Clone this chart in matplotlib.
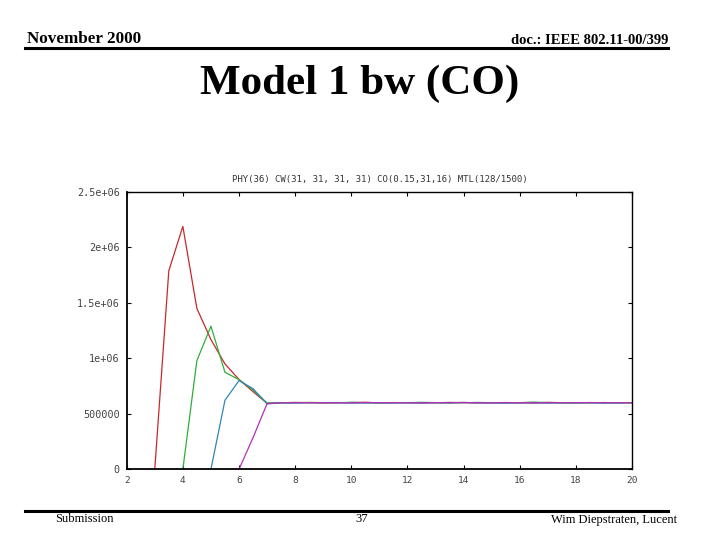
import matplotlib
matplotlib.use("Agg")
import matplotlib.pyplot as plt

# ---- data ----
plateau_x = [7.5, 8, 8.5, 9, 9.5, 10, 10.5, 11, 11.5, 12, 12.5, 13, 13.5,
             14, 14.5, 15, 15.5, 16, 16.5, 17, 17.5, 18, 18.5, 19, 19.5, 20]

red_x = [3, 3.5, 4, 4.5, 5, 5.5, 6, 6.5, 7] + plateau_x
red_y = [0, 1790000, 2190000, 1450000, 1170000, 950000, 810000, 700000, 595000,
         600000, 603000, 601000, 598000, 600000, 602000, 604000, 599000, 600000, 601000,
         598000, 600000, 603000, 601000, 599000, 600000, 602000, 600000, 598000, 604000,
         600000, 601000, 600000, 602000, 599000, 600000]

green_x = [4, 4.5, 5, 5.5, 6, 6.5, 7] + plateau_x
green_y = [0, 980000, 1290000, 875000, 808000, 715000, 598000,
           601000, 598000, 603000, 601000, 599000, 604000, 600000, 598000, 602000, 600000,
           604000, 601000, 599000, 600000, 603000, 600000, 598000, 601000, 606000, 601000,
           598000, 600000, 601000, 599000, 600000, 601000]

blue_x = [5, 5.5, 6, 6.5, 7] + plateau_x
blue_y = [0, 622000, 800000, 727000, 590000,
          598000, 600000, 599000, 601000, 602000, 597000, 598000, 600000, 598000, 600000,
          597000, 601000, 598000, 603000, 598000, 600000, 597000, 600000, 599000, 597000,
          600000, 598000, 600000, 597000, 599000, 600000]

magenta_x = [6, 6.5, 7] + plateau_x
magenta_y = [0, 285000, 592000,
             600000, 599000, 601000, 600000, 600000, 599000, 602000, 600000, 601000, 599000,
             600000, 601000, 600000, 602000, 600000, 599000, 601000, 600000, 600000, 599000,
             601000, 600000, 602000, 600000, 601000, 600000]

x_ticks = [2, 4, 6, 8, 10, 12, 14, 16, 18, 20]
y_ticks = [0, 500000, 1000000, 1500000, 2000000, 2500000]
y_tick_labels = ["0", "500000", "1e+06", "1.5e+06", "2e+06", "2.5e+06"]
chart_title = "PHY(36) CW(31, 31, 31, 31) CO(0.15,31,16) MTL(128/1500)"

# ---- figure ----
fig = plt.figure(figsize=(7.2, 5.4), dpi=100)
fig.patch.set_facecolor("white")

serif = ["Liberation Serif", "DejaVu Serif"]

# slide header
fig.text(27 / 720, 1 - 39 / 540, "November 2000", family=serif, weight="bold",
         fontsize=12.3, ha="left", va="center")
fig.text(668 / 720, 1 - 41 / 540, "doc.: IEEE 802.11-00/399", family=serif,
         weight="bold", fontsize=10.5, ha="right", va="center")
fig.add_artist(plt.Line2D([25 / 720, 668 / 720], [1 - 47.5 / 540, 1 - 47.5 / 540],
                          color="black", lw=2.2))
fig.text(360 / 720, 1 - 84 / 540, "Model 1 bw (CO)", family=serif, weight="bold",
         fontsize=31, ha="center", va="center")

# slide footer
fig.add_artist(plt.Line2D([25 / 720, 668 / 720], [1 - 511 / 540, 1 - 511 / 540],
                          color="black", lw=2.2))
fig.text(55 / 720, 1 - 513.5 / 540, "Submission", family=serif, fontsize=9,
         ha="left", va="top")
fig.text(362 / 720, 1 - 513.5 / 540, "37", family=serif, fontsize=9,
         ha="center", va="top")
fig.text(677 / 720, 1 - 513.5 / 540, "Wim Diepstraten, Lucent", family=serif,
         fontsize=9, ha="right", va="top")

# chart
ax = fig.add_axes([126.7 / 720, 1 - 469.3 / 540, (632 - 126.7) / 720, (469.3 - 192) / 540])
lw = 0.9
ax.plot(red_x, red_y, color="#c8282d", lw=lw)
ax.plot(green_x, green_y, color="#2fae3a", lw=lw)
ax.plot(blue_x, blue_y, color="#2f86b8", lw=lw)
ax.plot(magenta_x, magenta_y, color="#b52fb8", lw=lw)

ax.set_xlim(2, 20)
ax.set_ylim(0, 2500000)
ax.set_xticks(x_ticks)
ax.set_xticklabels([str(v) for v in x_ticks])
ax.set_yticks(y_ticks)
ax.set_yticklabels(y_tick_labels)
mono = ["DejaVu Sans Mono"]
for lab in ax.get_xticklabels():
    lab.set_family(mono)
    lab.set_fontsize(6.8)
    lab.set_color("#444444")
for lab in ax.get_yticklabels():
    lab.set_family(mono)
    lab.set_fontsize(7.3)
    lab.set_color("#444444")
ax.tick_params(axis="both", direction="in", length=3, width=0.8, top=True, right=True,
               pad=5)
for side in ["left", "bottom"]:
    ax.spines[side].set_linewidth(1.3)
for side in ["top", "right"]:
    ax.spines[side].set_linewidth(1.0)
ax.set_title(chart_title, family=mono, fontsize=6.5, color="#333333", pad=7)

fig.savefig("out.png", dpi=100, facecolor="white")
